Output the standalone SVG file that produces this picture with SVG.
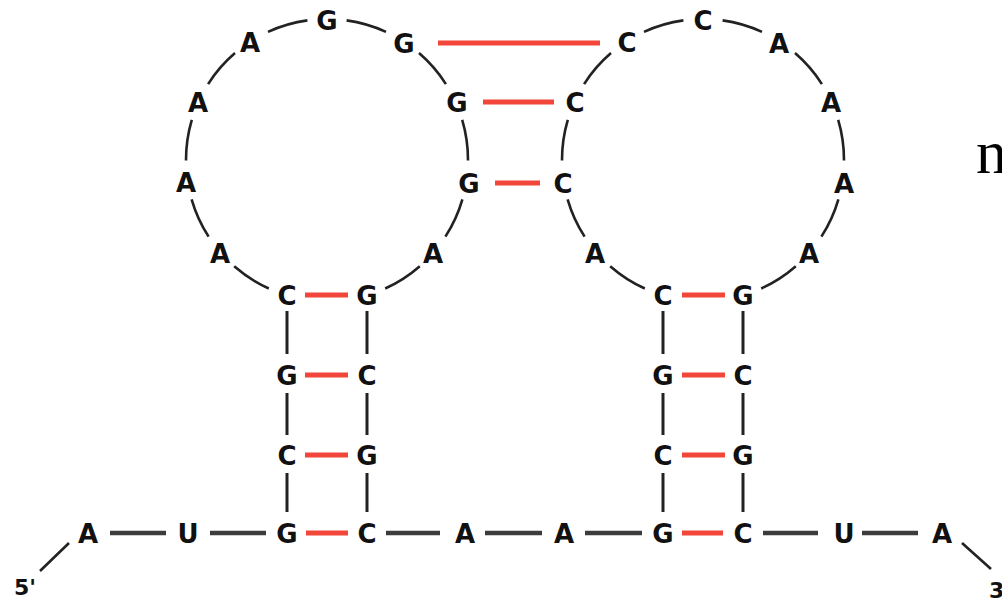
<svg xmlns="http://www.w3.org/2000/svg" width="1002" height="598" viewBox="0 0 1002 598">
<style>
.b{font-family:"DejaVu Sans","Liberation Sans",sans-serif;font-weight:bold;font-size:26px;fill:#111;text-anchor:middle}
.e{font-family:"DejaVu Sans","Liberation Sans",sans-serif;font-weight:bold;font-size:22px;fill:#111}
.arc{fill:none;stroke:#222;stroke-width:2.6}
.v{stroke:#222;stroke-width:3}
.h{stroke:#3c3c3c;stroke-width:4.5}
.r{stroke:#f2463a;stroke-width:5}
</style>
<rect width="1002" height="598" fill="#fff"/>
<g id="connectors">
<g id="loop-left-arcs">
<path class="arc" d="M268.8,288.5 A141,141 0 0 1 234.2,266.2"/>
<path class="arc" d="M208.6,236.6 A141,141 0 0 1 191.6,199.3"/>
<path class="arc" d="M186,160.4 A141,141 0 0 1 191.8,119.8"/>
<path class="arc" d="M208.1,84.1 A141,141 0 0 1 235,53.1"/>
<path class="arc" d="M268,31.9 A141,141 0 0 1 307.4,20.4"/>
<path class="arc" d="M346.6,20.4 A141,141 0 0 1 386,31.9"/>
<path class="arc" d="M419,53.1 A141,141 0 0 1 445.9,84.1"/>
<path class="arc" d="M462.2,119.8 A141,141 0 0 1 468,160.4"/>
<path class="arc" d="M462.4,199.3 A141,141 0 0 1 445.4,236.6"/>
<path class="arc" d="M419.8,266.2 A141,141 0 0 1 385.2,288.5"/>
</g>
<g id="loop-right-arcs">
<path class="arc" d="M644.8,288.5 A141,141 0 0 1 610.2,266.2"/>
<path class="arc" d="M584.6,236.6 A141,141 0 0 1 567.6,199.3"/>
<path class="arc" d="M562,160.4 A141,141 0 0 1 567.8,119.8"/>
<path class="arc" d="M584.1,84.1 A141,141 0 0 1 611,53.1"/>
<path class="arc" d="M644,31.9 A141,141 0 0 1 683.4,20.4"/>
<path class="arc" d="M722.6,20.4 A141,141 0 0 1 762,31.9"/>
<path class="arc" d="M795,53.1 A141,141 0 0 1 821.9,84.1"/>
<path class="arc" d="M838.2,119.8 A141,141 0 0 1 844,160.4"/>
<path class="arc" d="M838.4,199.3 A141,141 0 0 1 821.4,236.6"/>
<path class="arc" d="M795.8,266.2 A141,141 0 0 1 761.2,288.5"/>
</g>
<g id="stems">
<line class="v" x1="287" y1="311" x2="287" y2="354"/>
<line class="v" x1="287" y1="393" x2="287" y2="435"/>
<line class="v" x1="287" y1="473" x2="287" y2="512"/>
<line class="v" x1="367" y1="311" x2="367" y2="354"/>
<line class="v" x1="367" y1="393" x2="367" y2="435"/>
<line class="v" x1="367" y1="473" x2="367" y2="512"/>
<line class="v" x1="663" y1="311" x2="663" y2="354"/>
<line class="v" x1="663" y1="393" x2="663" y2="435"/>
<line class="v" x1="663" y1="473" x2="663" y2="512"/>
<line class="v" x1="743" y1="311" x2="743" y2="354"/>
<line class="v" x1="743" y1="393" x2="743" y2="435"/>
<line class="v" x1="743" y1="473" x2="743" y2="512"/>
</g>
<g id="backbone">
<line class="h" x1="110" y1="533" x2="166" y2="533"/>
<line class="h" x1="210" y1="533" x2="266" y2="533"/>
<line class="h" x1="386" y1="533" x2="440" y2="533"/>
<line class="h" x1="485" y1="533" x2="542" y2="533"/>
<line class="h" x1="585" y1="533" x2="642" y2="533"/>
<line class="h" x1="763" y1="533" x2="818" y2="533"/>
<line class="h" x1="862" y1="533" x2="918" y2="533"/>
<line class="arc" x1="40" y1="571" x2="69" y2="543"/>
<line class="arc" x1="962" y1="543" x2="991" y2="569"/>
</g>
<g id="pairs">
<line class="r" x1="438" y1="43" x2="600" y2="43"/>
<line class="r" x1="483" y1="102" x2="554" y2="102"/>
<line class="r" x1="495" y1="183" x2="540" y2="183"/>
<line class="r" x1="305" y1="295" x2="348" y2="295"/>
<line class="r" x1="305" y1="375" x2="348" y2="375"/>
<line class="r" x1="305" y1="455" x2="348" y2="455"/>
<line class="r" x1="306" y1="533" x2="348" y2="533"/>
<line class="r" x1="682" y1="295" x2="725" y2="295"/>
<line class="r" x1="682" y1="375" x2="725" y2="375"/>
<line class="r" x1="682" y1="455" x2="725" y2="455"/>
<line class="r" x1="682" y1="533" x2="723" y2="533"/>
</g>
</g>
<g id="left-loop">
<text class="b" x="287" y="305">C</text>
<text class="b" x="220" y="263">A</text>
<text class="b" x="186" y="192">A</text>
<text class="b" x="198" y="112">A</text>
<text class="b" x="250" y="52">A</text>
<text class="b" x="327" y="30">G</text>
<text class="b" x="404" y="53">G</text>
<text class="b" x="457" y="112">G</text>
<text class="b" x="469" y="193">G</text>
<text class="b" x="433" y="263">A</text>
<text class="b" x="367" y="305">G</text>
</g>
<g id="right-loop">
<text class="b" x="663" y="305">C</text>
<text class="b" x="595" y="263">A</text>
<text class="b" x="563" y="193">C</text>
<text class="b" x="575" y="112">C</text>
<text class="b" x="627" y="52">C</text>
<text class="b" x="703" y="30">C</text>
<text class="b" x="779" y="53">A</text>
<text class="b" x="831" y="112">A</text>
<text class="b" x="844" y="193">A</text>
<text class="b" x="809" y="263">A</text>
<text class="b" x="743" y="305">G</text>
</g>
<g id="left-stem">
<text class="b" x="287" y="385">G</text>
<text class="b" x="367" y="385">C</text>
<text class="b" x="287" y="465">C</text>
<text class="b" x="367" y="465">G</text>
<text class="b" x="287" y="543">G</text>
<text class="b" x="367" y="543">C</text>
</g>
<g id="right-stem">
<text class="b" x="663" y="385">G</text>
<text class="b" x="743" y="385">C</text>
<text class="b" x="663" y="465">C</text>
<text class="b" x="743" y="465">G</text>
<text class="b" x="663" y="543">G</text>
<text class="b" x="743" y="543">C</text>
</g>
<g id="backbone-bases">
<text class="b" x="88" y="543">A</text>
<text class="b" x="188" y="543">U</text>
<text class="b" x="465" y="543">A</text>
<text class="b" x="564" y="543">A</text>
<text class="b" x="844" y="543">U</text>
<text class="b" x="942" y="543">A</text>
</g>
<g id="ends">
<text class="e" x="14" y="595">5'</text>
<text class="e" x="989" y="598">3'</text>
</g>
<text x="976" y="173" font-family="'Liberation Serif',serif" font-size="62" fill="#000">n</text>
</svg>
